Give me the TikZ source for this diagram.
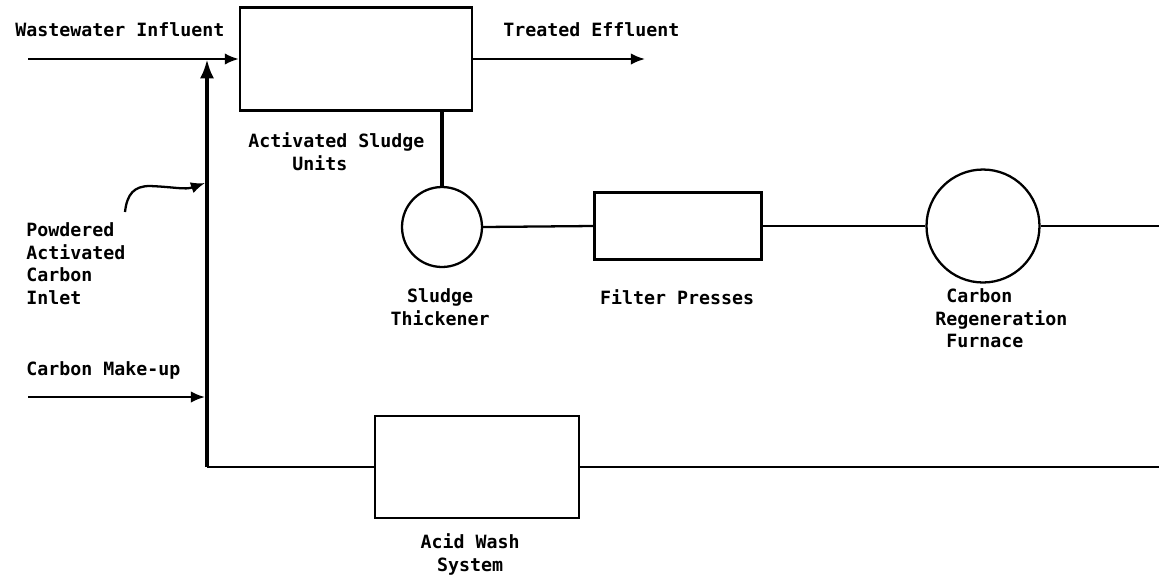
\documentclass[tikz,border=0pt]{standalone}
\usepackage{fontspec}
\setmainfont{DejaVu Sans Mono}
\usetikzlibrary{shapes,arrows.meta,positioning,calc}

\begin{document}
\begin{tikzpicture}[x=0.02cm, y=-0.02cm, >={Latex[length=8pt,width=6.5pt]},
    unit/.style={draw, line width=1.3pt, inner sep=0pt},
    lbl/.style={inner sep=0pt, font=\fontsize{10.4}{13}\selectfont\bfseries},
    pipe/.style={line width=1.3pt},
    mainline/.style={line width=2.6pt}]
    \useasboundingbox (0,0) rectangle (1159,579);
    % process units
    \node[unit, minimum width=4.64cm, minimum height=2.06cm] (asu) at (356,59) {};
    \node[unit, circle, minimum size=1.6cm] (thick) at (442,227) {};
    \node[unit, minimum width=3.34cm, minimum height=1.34cm] (filter) at (678,226) {};
    \node[unit, circle, minimum size=2.26cm] (furnace) at (983,226) {};
    \node[unit, minimum width=4.08cm, minimum height=2.04cm] (acid) at (477,467) {};
    % labels
    \node[lbl, anchor=base west] (inflbl) at (15,36) {Wastewater Influent};
    \node[lbl, anchor=base west] (efflbl) at (503,36) {Treated Effluent};
    \node[lbl, anchor=north west, align=left] (asulbl) at (248,132) {Activated Sludge\\\phantom{Acti}Units};
    \node[lbl, anchor=north west, align=left] (paclbl) at (26,222) {Powdered\\Activated\\Carbon\\Inlet};
    \node[lbl, anchor=base west] (mklbl) at (26,375) {Carbon Make-up};
    \node[lbl, anchor=north, align=center] (thicklbl) at (440,288) {Sludge\\Thickener};
    \node[lbl, anchor=north] (filterlbl) at (677,289) {Filter Presses};
    \node[lbl, anchor=north west, align=left] (furnlbl) at (935,288) {\phantom{R}Carbon\\Regeneration\\\phantom{R}Furnace};
    \node[lbl, anchor=north, align=center] (acidlbl) at (470,533) {Acid Wash\\System};
    % free ends
    \coordinate (infl) at (28,59);
    \coordinate (effl) at (645,59);
    \coordinate (top) at (207,59);
    \coordinate (corner) at (207,467);
    \coordinate (mk) at (28,397);
    \coordinate (mkin) at (205,397);
    \coordinate (pac) at (125,212);
    \coordinate (pacin) at (205,183);
    \coordinate (rtop) at (1159,226);
    \coordinate (rbot) at (1159,467);
    % flows
    \draw[pipe, ->] (infl) -- (asu.west);
    \draw[pipe, ->] (asu.east) -- (effl);
    \draw[mainline, -{Latex[length=11pt,width=8pt]}] (corner) -- (top);
    \draw[mainline] (thick.north |- asu.south) -- (thick.north);
    \draw[pipe] (thick.east) -- (filter.west);
    \draw[pipe] (filter.east) -- (furnace.west);
    \draw[pipe] (furnace.east) -- (rtop);
    \draw[pipe] (corner) -- (acid.west);
    \draw[pipe] (acid.east) -- (rbot);
    \draw[pipe, ->] (mk) -- (mkin);
    \draw[pipe, ->] (pac) .. controls (127,194) and (134,186) .. (150,186)
        .. controls (175,187) and (185,190) .. (pacin);
\end{tikzpicture}
\end{document}
